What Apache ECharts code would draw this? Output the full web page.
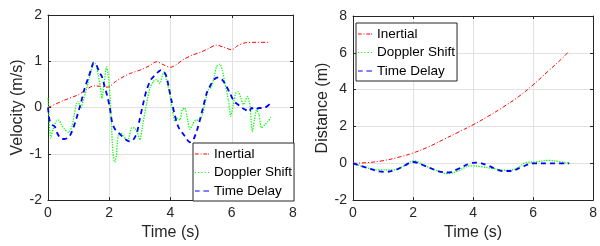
<!DOCTYPE html>
<html>
<head>
<meta charset="utf-8">
<script src="https://cdn.jsdelivr.net/npm/echarts@6/dist/echarts.min.js"></script>
<style>
  html, body { margin: 0; padding: 0; background: #ffffff; }
  #chart { width: 600px; height: 246px; }
</style>
</head>
<body>
<div id="chart"></div>
<script>
// legend names
var seriesNames = ['Inertial', 'Doppler Shift', 'Time Delay'];
var xTicks = [0, 2, 4, 6, 8];

// left panel: velocity (m/s) vs time (s)
var velInertial = [[0,0],[0.5,0.15],[1,0.28],[1.25,0.39],[1.5,0.47],[1.8,0.45],[1.95,0.44],[2.2,0.56],[2.5,0.68],[2.7,0.74],[3.05,0.82],[3.3,0.9],[3.55,0.99],[3.75,0.93],[4,0.87],[4.2,0.93],[4.4,1.03],[4.7,1.13],[5,1.2],[5.25,1.28],[5.5,1.35],[5.75,1.3],[6,1.25],[6.2,1.34],[6.45,1.4],[6.8,1.41],[7.25,1.41]];
var velDoppler = [[0,0.2],[0.09,-0.66],[0.16,-0.48],[0.27,-0.29],[0.35,-0.27],[0.44,-0.37],[0.54,-0.47],[0.68,-0.54],[0.78,-0.41],[0.93,0.09],[0.98,0.13],[1.07,-0.01],[1.14,0.13],[1.25,0.38],[1.36,0.67],[1.47,0.92],[1.55,0.95],[1.63,0.74],[1.71,0.45],[1.76,0.2],[1.82,0.45],[1.91,0.88],[1.96,0.74],[2.02,0.31],[2.07,-0.34],[2.12,-0.98],[2.18,-1.18],[2.23,-1.05],[2.29,-0.62],[2.37,-0.55],[2.48,-0.62],[2.56,-0.7],[2.64,-0.66],[2.73,-0.44],[2.83,-0.44],[2.92,-0.55],[3,-0.7],[3.1,-0.34],[3.22,0.09],[3.33,0.42],[3.43,0.56],[3.54,0.61],[3.65,0.52],[3.73,0.68],[3.79,0.77],[3.87,0.6],[3.98,0.27],[4.09,-0.16],[4.14,-0.3],[4.23,-0.23],[4.31,-0.27],[4.38,-0.05],[4.47,-0.01],[4.56,-0.27],[4.63,-0.47],[4.72,-0.37],[4.82,-0.27],[4.93,-0.27],[5.04,-0.16],[5.14,0.13],[5.23,0.38],[5.34,0.45],[5.43,0.67],[5.5,0.88],[5.61,0.94],[5.69,0.81],[5.78,0.52],[5.89,0.16],[5.97,-0.19],[6.05,0.06],[6.13,0.31],[6.21,0.34],[6.3,0.2],[6.38,0.06],[6.45,0.16],[6.52,0.24],[6.6,0.02],[6.67,-0.52],[6.74,-0.27],[6.81,-0.05],[6.89,-0.16],[6.97,-0.44],[7.08,-0.37],[7.19,-0.3],[7.27,-0.21]];
var velDelay = [[0,0],[0.05,-0.27],[0.13,-0.37],[0.22,-0.41],[0.3,-0.55],[0.41,-0.66],[0.54,-0.68],[0.68,-0.64],[0.78,-0.52],[0.93,-0.23],[1.07,0.09],[1.2,0.42],[1.33,0.67],[1.42,0.85],[1.49,0.97],[1.58,0.92],[1.67,0.77],[1.76,0.67],[1.85,0.45],[1.94,0.24],[2.02,-0.01],[2.1,-0.34],[2.2,-0.48],[2.31,-0.55],[2.42,-0.62],[2.56,-0.7],[2.67,-0.73],[2.78,-0.7],[2.9,-0.55],[2.99,-0.27],[3.1,0.06],[3.22,0.38],[3.36,0.6],[3.49,0.7],[3.6,0.77],[3.69,0.81],[3.79,0.77],[3.87,0.67],[3.94,0.45],[4.03,0.16],[4.14,-0.16],[4.25,-0.41],[4.36,-0.52],[4.47,-0.62],[4.63,-0.75],[4.74,-0.7],[4.85,-0.52],[4.96,-0.27],[5.07,0.02],[5.18,0.31],[5.28,0.45],[5.43,0.61],[5.56,0.65],[5.69,0.6],[5.8,0.49],[5.94,0.31],[6.08,0.13],[6.21,0.06],[6.34,-0.01],[6.45,-0.05],[6.56,-0.09],[6.65,-0.01],[6.76,-0.05],[6.89,-0.01],[7.03,-0.01],[7.14,0.02],[7.26,0.09]];

// right panel: distance (m) vs time (s)
var distInertial = [[0,0],[0.5,0.04],[1,0.14],[1.5,0.32],[2,0.56],[2.5,0.88],[3,1.28],[3.5,1.68],[4,2.09],[4.5,2.55],[5,3.05],[5.5,3.6],[6,4.26],[6.5,5.0],[7,5.75],[7.2,6.1]];
var distDoppler = [[0,0],[0.44,-0.23],[0.87,-0.36],[1.31,-0.36],[1.74,-0.11],[2.02,0.13],[2.4,-0.14],[2.83,-0.42],[3.16,-0.56],[3.49,-0.42],[3.92,-0.14],[4.25,-0.18],[4.68,-0.29],[5.07,-0.38],[5.45,-0.29],[5.77,0.04],[6.1,0.07],[6.54,0.16],[6.86,0.09],[7.24,0]];
var distDelay = [[0,0],[0.44,-0.23],[1.03,-0.47],[1.42,-0.36],[1.74,-0.11],[1.98,0.07],[2.4,-0.14],[2.83,-0.42],[3.16,-0.5],[3.49,-0.32],[3.92,0],[4.14,0.04],[4.47,-0.11],[5.01,-0.42],[5.23,-0.42],[5.66,-0.18],[5.99,0],[6.54,0],[7.2,0]];

var ink = '#262626';
var font = 'Liberation Sans, Arial, Helvetica, sans-serif';
var styles = [
  { color: '#ff0000', width: 1, type: [4, 2, 1, 2] },
  { color: '#00ff00', width: 1.3, type: [1.3, 1.3] },
  { color: '#0000ff', width: 1.8, type: [5, 4] }
];
// little dashed strokes for the legend keys (drawn as filled bits)
var legendIcons = [
  'path://M0,0h4v1h-4zM6,0h1v1h-1zM9,0h4v1h-4zM14,0h1v1h-1z',
  'path://M0,0h1v1h-1zM3,0h1v1h-1zM6,0h1v1h-1zM9,0h1v1h-1zM12,0h1v1h-1z',
  'path://M0,0h5v1h-5zM9,0h6v1h-6z'
];

function xAx(grid, top) {
  return {
    type: 'value', gridIndex: grid, min: 0, max: 8, interval: 2,
    position: top ? 'top' : 'bottom',
    name: top ? '' : 'Time (s)', nameLocation: 'middle', nameGap: 23,
    nameTextStyle: { color: ink, fontSize: 16, fontFamily: font },
    axisLine: { show: true, onZero: false, lineStyle: { color: ink, width: 1 } },
    axisTick: { show: true, inside: true, length: 3, lineStyle: { color: ink } },
    axisLabel: { show: !top, color: ink, fontSize: 14, fontFamily: font, margin: 6 },
    splitLine: { show: !top, lineStyle: { color: '#e2e2e2', width: 1 } }
  };
}
function yAx(grid, right, min, max, interval, name) {
  return {
    type: 'value', gridIndex: grid, min: min, max: max, interval: interval,
    position: right ? 'right' : 'left',
    name: right ? '' : name, nameLocation: 'middle', nameGap: 21,
    nameTextStyle: { color: ink, fontSize: 16, fontFamily: font },
    axisLine: { show: true, onZero: false, lineStyle: { color: ink, width: 1 } },
    axisTick: { show: true, inside: true, length: 3, lineStyle: { color: ink } },
    axisLabel: { show: !right, color: ink, fontSize: 14, fontFamily: font, margin: 6 },
    splitLine: { show: !right, lineStyle: { color: '#e2e2e2', width: 1 } }
  };
}
function line(name, data, k, xi, yi, smooth) {
  return {
    name: name, type: 'line', data: data, xAxisIndex: xi, yAxisIndex: yi,
    symbol: 'none', showSymbol: false, smooth: smooth, animation: false,
    lineStyle: styles[k], itemStyle: { color: styles[k].color }
  };
}
function legendAt(left, top) {
  return {
    orient: 'vertical', left: left, top: top,
    data: seriesNames.map(function (n, i) { return { name: n, icon: legendIcons[i] }; }),
    backgroundColor: '#ffffff', borderColor: ink, borderWidth: 1, borderRadius: 0,
    padding: [4, 2, 3, 2], itemGap: 4.5, itemWidth: 14, itemHeight: 2,
    textStyle: { color: '#000', fontSize: 13.5, fontFamily: font },
    selectedMode: false
  };
}

var chart = echarts.init(document.getElementById('chart'));
var option = {
  backgroundColor: '#ffffff',
  animation: false,
  grid: [
    { left: 48, top: 15, width: 245, height: 186 },
    { left: 353, top: 16, width: 245, height: 185 }
  ],
  xAxis: [xAx(0, false), xAx(0, true), xAx(1, false), xAx(1, true)],
  yAxis: [
    yAx(0, false, -2, 2, 1, 'Velocity (m/s)'), yAx(0, true, -2, 2, 1, ''),
    yAx(1, false, -2, 8, 2, 'Distance (m)'), yAx(1, true, -2, 8, 2, '')
  ],
  legend: [legendAt(193, 143), legendAt(356, 23)],
  series: [
    line(seriesNames[0], velInertial, 0, 0, 0, 0.3),
    line(seriesNames[1], velDoppler, 1, 0, 0, 0.2),
    line(seriesNames[2], velDelay, 2, 0, 0, 0.3),
    line(seriesNames[0], distInertial, 0, 2, 2, 0.4),
    line(seriesNames[1], distDoppler, 1, 2, 2, 0.4),
    line(seriesNames[2], distDelay, 2, 2, 2, 0.4)
  ]
};
chart.setOption(option);
</script>
</body>
</html>
